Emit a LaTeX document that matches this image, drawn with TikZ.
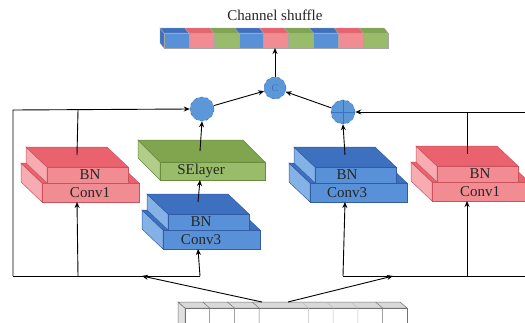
\documentclass[tikz,border=0pt]{standalone}
\usepackage{fontspec}
\setmainfont{Liberation Serif}
\usetikzlibrary{arrows.meta}

% block palettes
\definecolor{pkTop}{RGB}{234,98,110}
\definecolor{pkFront}{RGB}{241,140,146}
\definecolor{pkSide}{RGB}{246,172,177}
\definecolor{pkEdge}{RGB}{205,82,94}
\definecolor{blTop}{RGB}{62,112,192}
\definecolor{blFront}{RGB}{88,145,215}
\definecolor{blSide}{RGB}{132,177,230}
\definecolor{blEdge}{RGB}{50,92,165}
\definecolor{grTop}{RGB}{128,165,78}
\definecolor{grFront}{RGB}{152,188,106}
\definecolor{grSide}{RGB}{178,205,138}
\definecolor{grEdge}{RGB}{105,140,60}
\definecolor{opFill}{RGB}{92,152,216}
\definecolor{opEdge}{RGB}{62,112,190}

\tikzset{
  lbl/.style={font=\fontsize{15}{15}\selectfont, text=black!85, inner sep=0pt},
  wire/.style={line width=0.9pt, black},
  arr/.style={wire, -{Stealth[length=6pt,width=5pt]}},
  opnode/.style={circle, fill=opFill, draw=opEdge, dashed, line width=0.5pt, inner sep=0pt},
  faceedge/.style={line width=0.5pt}
}

% stepped layer block: name, front-left x, bottom y, palette, label x offset, lower label
\newcommand{\stepblock}[6]{%
  % lower slab
  \filldraw[fill=#4Side, draw=#4Edge, faceedge] (#2,#3-19) -- (#2,#3) -- (#2-21,#3-20) -- (#2-21,#3-39) -- cycle;
  \filldraw[fill=#4Top, draw=#4Edge, faceedge] (#2,#3-19) -- (#2+97,#3-19) -- (#2+76,#3-39) -- (#2-21,#3-39) -- cycle;
  \filldraw[fill=#4Front, draw=#4Edge, faceedge] (#2,#3-19) rectangle (#2+97,#3);
  % upper slab
  \filldraw[fill=#4Side, draw=#4Edge, faceedge] (#2+5,#3-35) -- (#2+5,#3-19) -- (#2-16,#3-39) -- (#2-16,#3-55) -- cycle;
  \filldraw[fill=#4Top, draw=#4Edge, faceedge] (#2+5,#3-35) -- (#2+86,#3-35) -- (#2+65,#3-55) -- (#2-16,#3-55) -- cycle;
  \filldraw[fill=#4Front, draw=#4Edge, faceedge] (#2+5,#3-35) rectangle (#2+86,#3-19);
  \node[lbl] (#1-bn) at (#2+#5,#3-27) {BN};
  \node[lbl] (#1-conv) at (#2+#5,#3-9.5) {#6};
  \coordinate (#1-in) at (#2+35,#3);
  \coordinate (#1-out) at (#2+35,#3-47);
}

\begin{document}
\begin{tikzpicture}[x=1pt,y=-1pt]
\useasboundingbox (0,0) rectangle (525,322);

% ---- channel shuffle bar ----
\node[lbl] (title) at (275,15) {Channel shuffle};
\filldraw[fill=blTop, draw=black!35, line width=0.4pt] (164,33) -- (164,48) -- (160,43) -- (160,28) -- cycle;
\foreach \i/\c in {0/bl,1/pk,2/gr,3/bl,4/pk,5/gr,6/bl,7/pk,8/gr}{
  \pgfmathsetmacro\xa{164+\i*24.9}
  \pgfmathsetmacro\xb{164+(\i+1)*24.9}
  \filldraw[fill=\c Top, draw=black!35, line width=0.4pt] (\xa,33) -- (\xb,33) -- (\xb-4,28) -- (\xa-4,28) -- cycle;
  \filldraw[fill=\c Front, draw=black!35, line width=0.4pt] (\xa,33) rectangle (\xb,48);
}
\coordinate (shuffle-in) at (275,48);

% ---- input feature bar ----
\filldraw[fill=black!12, draw=black!55, line width=0.5pt] (185,308) -- (185,330) -- (178,324) -- (178,302) -- cycle;
\filldraw[fill=black!15, draw=black!55, line width=0.5pt] (178,302) -- (400,302) -- (407,308) -- (185,308) -- cycle;
\filldraw[fill=white, draw=black!55, line width=0.5pt] (185,308) rectangle (407,330);
\foreach \x/\g in {209.7/55, 234.4/55, 259.1/55, 308.5/25, 333.2/25, 357.9/25, 382.6/55}{
  \draw[black!\g, line width=0.5pt] (\x-7,302) -- (\x,308) -- (\x,330);
}
\coordinate (src-l) at (262,302);
\coordinate (src-r) at (288,302);

% ---- layer blocks ----
\stepblock{convL}{42}{202}{pk}{48}{Conv1}
\stepblock{convM}{163}{249}{bl}{38}{Conv3}
\stepblock{convR}{310}{202}{bl}{37}{Conv3}
\stepblock{convP}{432}{201}{pk}{48}{Conv1}

% SE layer slab
\filldraw[fill=grSide, draw=grEdge, faceedge] (160,162) -- (160,180) -- (138,158) -- (138,140) -- cycle;
\filldraw[fill=grTop, draw=grEdge, faceedge] (160,162) -- (265,162) -- (243,140) -- (138,140) -- cycle;
\filldraw[fill=grFront, draw=grEdge, faceedge] (160,162) rectangle (265,180);
\node[lbl] (se) at (201,171) {SElayer};
\coordinate (se-in) at (200,180);
\coordinate (se-out) at (200,151);

% ---- operators ----
\node[opnode, minimum size=24pt] (addL) at (202,109) {};
\node[opnode, minimum size=24pt] (addR) at (343,112) {};
\draw[opEdge, line width=0.5pt] (addR.north) -- (addR.south) (addR.west) -- (addR.east);
\node[opnode, minimum size=22pt, font=\fontsize{10}{10}\selectfont, text=opEdge] (cat) at (275,88) {C};

% ---- routing points ----
\coordinate (tl) at (13,110);
\coordinate (bl) at (13,276);
\coordinate (jtl) at (78,110);
\coordinate (jbl) at (78,276);
\coordinate (jbm) at (200,276);
\coordinate (tipL) at (142,276);
\coordinate (tr) at (530,112);
\coordinate (br) at (530,276);
\coordinate (jtr) at (467,112);
\coordinate (jbr) at (467,276);
\coordinate (jbc) at (343,276);
\coordinate (tipR) at (393,276);

% ---- connectors ----
\draw[arr] (bl) -- (tl) -- (addL.west);
\draw[wire] (jtl) -- (convL-out);
\draw[wire] (bl) -- (jbm);
\draw[arr] (jbl) -- (convL-in);
\draw[arr] (jbm) -- (convM-in);
\draw[arr] (convM-out) -- (se-in);
\draw[arr] (se-out) -- (addL.south);
\draw[arr] (src-l) -- (tipL);
\draw[arr] (src-r) -- (tipR);

\draw[arr] (br) -- (tr) -- (addR.east);
\draw[wire] (jtr) -- (convP-out);
\draw[wire] (jbc) -- (br);
\draw[arr] (jbc) -- (convR-in);
\draw[arr] (jbr) -- (convP-in);
\draw[arr] (convR-out) -- (addR.south);

\draw[arr] (addL) -- (cat);
\draw[arr] (addR) -- (cat);
\draw[arr] (cat) -- (shuffle-in);
\end{tikzpicture}
\end{document}
